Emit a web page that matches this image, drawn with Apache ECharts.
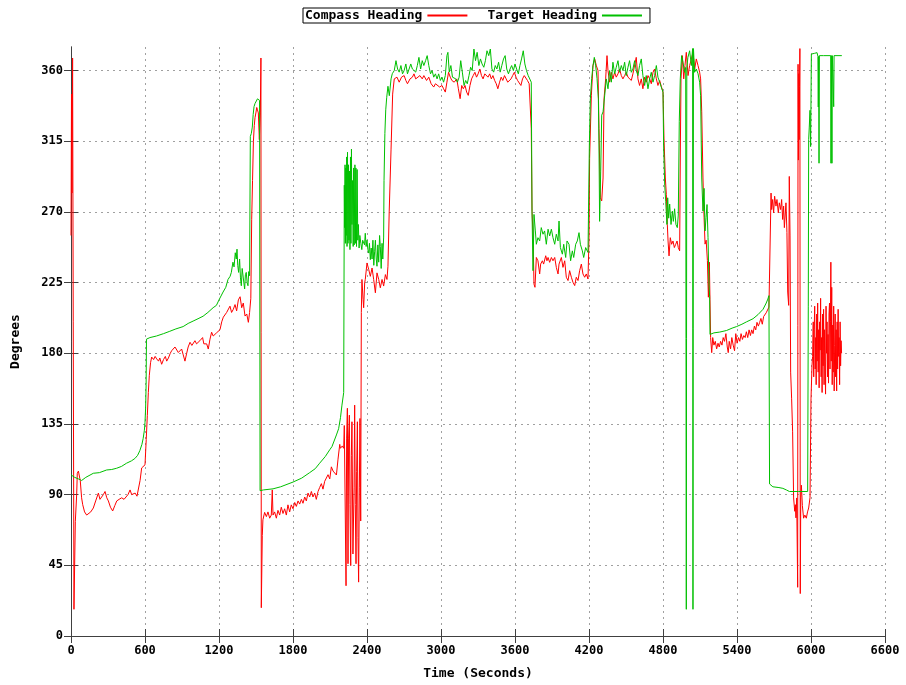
<!DOCTYPE html>
<html>
<head>
<meta charset="utf-8">
<script src="https://cdn.jsdelivr.net/npm/echarts@6/dist/echarts.min.js"></script>
<style>
  html, body { margin: 0; padding: 0; background: #fff; }
  #chart { width: 906px; height: 685px; }
</style>
</head>
<body>
<div id="chart"></div>
<script>
// time (s), heading (deg)
const compassHeading = [
  [0,255],[4,345],[8,282],[13,368],[18,200],[24,17],[35,73],[46,90],[51,103.6],[60,105],[67,104.7],[75,99],[86,88],[95,83.6],[110,79],[127,77],[141,76.5],[160,79],[181,81.5],[200,86],[222,91],[235,87],[249,88],[262,90],[276,92],[290,88],[303,86],[320,82],[338,79.6],[355,83],[371,86],[390,87],[411,88],[430,87],[446,88.5],[462,90],[479,93],[492,90],[506,90],[520,91],[535,89],[547,90],[560,99],[573,107],[585,108],[600,109],[610,125],[619,140.5],[627,155],[635,166],[645,174],[654,177.6],[670,176],[682,178],[695,176.4],[710,175],[720,177],[735,173],[750,176],[765,178],[776,175],[790,177],[805,180],[816,181.6],[830,182],[843,184],[856,183],[870,180.5],[884,181],[897,182.7],[910,179],[924,175],[938,180],[950,184],[965,187],[980,185],[992,186],[1005,188],[1018,186],[1032,185],[1045,188],[1058,189],[1067,190],[1077,186],[1086,187],[1100,186],[1113,182.7],[1127,189],[1140,193.4],[1153,191],[1167,190],[1180,193],[1195,194],[1208,195],[1222,200],[1235,203],[1248,204],[1262,206],[1276,207],[1289,210],[1302,206],[1316,208],[1330,211],[1343,207],[1357,214],[1371,216],[1384,209],[1397,212],[1411,203.7],[1425,205],[1438,199.7],[1448,206],[1458,215],[1465,265],[1472,290],[1479,315],[1486,325],[1492,330],[1499,333],[1506,336.5],[1512,335],[1519,333],[1527,316],[1535,333],[1540,368],[1543,18],[1551,64],[1556,74],
  [1570,78.7],[1584,76],[1597,79],[1611,75],[1624,77],[1632,93],[1638,77],[1651,79],[1665,75],[1678,80],[1692,77],[1705,82],[1719,78],[1732,81],[1746,77],[1759,83.5],[1773,79],[1786,83.5],[1800,81],[1814,85],[1827,82.5],[1841,86],[1854,84],[1868,87],[1881,84.5],[1895,88.5],[1908,86],[1922,91],[1935,88.5],[1949,92],[1962,88.5],[1976,91],[1989,87],[2003,92],[2016,94.5],[2030,97],[2043,93.5],[2057,98.5],[2071,99],[2084,102.7],[2098,100],[2111,107.7],[2125,105],[2138,106],[2152,102.5],[2165,112.6],[2179,122],[2184,119.5],[2200,121],[2211,119.5],[2216,134],
  [2224,134],[2230,32],[2235,126],[2241,145],[2246,46],[2251,126],[2257,140.6],[2262,83.7],[2268,44.8],[2273,115],[2278,136.4],[2286,52.2],[2295,94.3],[2300,147],[2305,83.7],[2311,46],[2316,104.8],[2322,136.4],[2327,62.7],[2332,34.3],[2338,94.3],[2343,138.5],[2349,73.2],[2354,206],[2359,227],[2368,214.3],[2373,209],[2381,224.8],[2386,227],[2400,237.5],[2414,233.3],[2427,229],[2441,234.3],[2454,227],[2468,218.5],[2481,231.2],[2495,227],[2508,221.7],[2522,227],[2535,222.8],[2549,230.1],[2562,227],[2570,235.4],[2580,270],[2595,310],[2608,345],
  [2621,354.7],[2643,355.8],[2661,352.6],[2680,355.8],[2701,356.8],[2715,353.7],[2728,351.6],[2749,354.7],[2768,355.8],[2781,357.9],[2795,354.7],[2808,353.7],[2829,356.8],[2848,354.7],[2861,356.8],[2883,353.7],[2901,355.8],[2920,351.6],[2941,349.5],[2955,351.6],[2968,352.6],[2989,349.5],[3008,350.5],[3021,348.4],[3035,346.3],[3048,352.6],[3061,358.9],[3075,355.8],[3088,353.7],[3107,352.6],[3128,354.7],[3141,348.4],[3155,342.1],[3168,350.5],[3181,348.4],[3195,350.5],[3208,346.3],[3221,344.2],[3235,350.5],[3248,354.7],[3261,356.8],[3275,358.9],[3288,355.8],[3301,357.9],[3315,361],[3328,356.8],[3341,354.7],[3355,357.9],[3368,358.9],[3381,355.8],[3395,357.9],[3408,354.7],[3421,356.8],[3435,353.7],[3448,351.6],[3461,348.4],[3475,352.6],[3488,355.8],[3501,353.7],[3515,356.8],[3528,354.7],[3541,352.6],[3555,351.6],[3568,354.7],[3581,356.8],[3595,358.9],[3608,355.8],[3621,353.7],[3635,352.6],[3648,350.5],[3661,354.7],[3675,356.8],[3688,355.8],[3701,353.7],[3715,351.6],[3725,352],[3732,323],[3738,270.5],[3746,256],[3750,240],[3754,224],[3762,222],
  [3773,241],[3786,238.9],[3800,230.5],[3808,236.8],[3822,238.9],[3832,236.8],[3849,242.1],[3859,238.9],[3868,241],[3881,237.9],[3895,241],[3908,238.9],[3922,241],[3935,234.7],[3949,230.5],[3957,236.8],[3976,241],[3989,234.7],[4003,238.9],[4016,228.4],[4030,226.3],[4043,232.6],[4057,228.4],[4070,225.2],[4084,223.1],[4097,228.4],[4111,226.3],[4124,232.6],[4138,236.8],[4151,230.5],[4165,228.4],[4178,230.5],[4192,227.3],
  [4200,253.6],[4205,304],[4219,344],[4232,363],[4246,367.4],[4260,363],[4273,360],[4281,323],[4292,279],[4303,277],[4314,291.6],[4322,342],[4335,354.7],[4346,369.5],[4354,360],[4367,352.6],[4381,358.9],[4394,354.7],[4408,358.9],[4421,355.8],[4435,357.9],[4448,361],[4462,356.8],[4475,354.7],[4489,356.8],[4502,358.9],[4516,355.8],[4529,356.8],[4543,353.7],[4556,357.9],[4570,356.8],[4583,368.4],[4597,354.7],[4610,350.5],[4624,354.7],[4637,348.4],[4651,355.8],[4664,352.6],[4678,356.8],[4692,354.7],[4705,351.6],[4719,358.9],[4732,361],[4746,354.7],[4759,350.5],[4773,353.7],[4786,350],[4800,346.3],[4808,317],[4819,291.6],[4827,281],[4835,262],[4841,251.5],[4849,242],[4859,253.6],[4870,249.4],[4881,251.5],[4892,247.3],[4903,249.4],[4914,251.5],[4924,247.3],[4935,245.2],[4941,312.6],[4946,354.7],[4957,369.5],[4968,354.7],[4978,363.2],[4989,371.6],[5003,356.8],[5016,363.2],[5030,367.4],[5043,371.6],[5057,361],[5070,367.4],[5084,363.2],[5097,359],[5105,354.7],[5114,333.7],[5124,291.6],[5133,266.3],[5141,249.5],[5150,252],[5160,239],[5168,215.7],[5176,238],[5181,214],[5186,190],[5195,180.4],[5203,190],
  [5213,185.2],[5224,187.6],[5235,182.8],[5246,186.4],[5256,184],[5267,187.6],[5278,185.2],[5288,190],[5299,187.6],[5310,192.5],[5321,184],[5329,180.4],[5337,187.6],[5348,182.8],[5358,190],[5369,185.2],[5380,181.6],[5390,192.5],[5401,186.4],[5412,190],[5423,187.6],[5433,192.5],[5444,188.8],[5455,191.3],[5466,190],[5476,193.7],[5487,190],[5498,194.9],[5509,191.3],[5519,194.9],[5530,192.5],[5541,197.3],[5552,194.9],[5562,199.7],[5573,197.3],[5584,199.7],[5594,202.2],[5605,198.5],[5616,203.4],[5627,202.2],[5637,205.8],[5651,207],[5659,209.4],
  [5676,282],[5681,271.5],[5689,277.9],[5697,269.4],[5705,280],[5716,273.7],[5724,277.9],[5735,269.4],[5743,275.8],[5754,271.5],[5762,277.9],[5770,265.2],[5778,273.7],[5784,260],[5792,269.4],[5797,275.8],[5805,256.8],[5811,219],[5819,210.5],[5824,292.6],[5830,254.7],[5835,168],[5843,151],[5851,130],[5859,87.9],[5868,79.4],[5873,83.6],[5878,75.2],[5884,87.9],[5892,31],[5895,364],[5898,303],[5901,358],[5904,316],[5907,350],[5910,374],[5913,27],[5917,88],[5922,96],[5926,96],[5930,83],[5940,75],[5950,77],[5962,75],[5972,79],[5981,81.5],[5992,88],[6000,151],
  [6008,172],[6013,178],[6018,200],[6022,165],[6026,195],[6030,210],[6034,170],[6038,190],[6042,160],[6046,205],[6050,175],[6054,212],[6058,168],[6062,195],[6066,158],[6070,200],[6074,182],[6078,215],[6082,165],[6086,190],[6090,155],[6094,205],[6098,172],[6102,208],[6106,160],[6110,195],[6114,175],[6118,154],[6122,210],[6126,180],[6130,200],[6134,165],[6138,192],[6142,161],[6146,205],[6150,212],[6154,170],[6158,200],[6161,238],[6164,175],[6168,222],[6172,160],[6176,198],[6180,168],[6184,210],[6188,156],[6192,185],[6196,205],[6200,165],[6204,195],[6208,156],[6212,200],[6216,170],[6220,208],[6224,178],[6228,190],[6232,160],[6236,200],[6240,172],[6244,188],[6248,180]
];

const targetHeading = [
  [0,102.6],[30,101],[60,100],[86,99],[120,101],[181,103.6],[230,104],[289,105.7],[330,106],[370,106.8],[410,108],[450,110],[490,111.5],[518,113],[540,115],[558,118],[575,122],[585,125.7],[595,131],[600,136],[605,145],[609,160],[612,189],[640,190],[693,191],[750,192.5],[801,194],[850,195.5],[909,197],[950,199],[990,200.5],[1030,202],[1071,203.6],[1110,206],[1152,209],[1179,210.5],[1200,214],[1233,219],[1255,222],[1273,227],[1290,229],[1300,231.5],[1313,238],[1322,235],[1332,244],[1340,240],[1346,246.3],[1352,236],[1359,231.5],[1367,240],[1374,228],[1381,223],[1388,234],[1394,233.6],[1400,226],[1408,221],[1414,230],[1421,231.5],[1428,225],[1435,223],[1441,232],[1448,229.4],[1454,318],[1462,320],[1470,324],[1477,332],[1484,337],[1492,339],[1502,340],[1512,342],[1524,342],[1529,341],[1533,92.5],[1560,93],[1638,93.7],[1700,95],[1800,98],[1870,100.5],[1935,104],[1980,106.5],[2016,110],[2062,114.3],[2098,118.6],[2116,120.6],[2152,128],[2170,132],[2185,139],[2197,147],[2211,155],
  [2216,287],[2219,260],[2222,300],[2225,250],[2228,298],[2231,255],[2235,305],[2238,248],[2242,308],[2246,250],[2250,300],[2254,252],[2258,296],[2262,246],[2266,305],[2270,250],[2274,310],[2278,262],[2283,290],[2288,248],[2292,298],[2296,249],[2302,300],[2306,250],[2310,298],[2315,248],[2320,297],[2325,252],[2330,262],[2336,247],[2342,255],[2350,250],[2358,246],[2365,252],[2373,252],[2380,249],[2386,256.4],[2393,248],[2400,252],[2407,246],[2414,243.8],[2420,250],[2427,239.6],[2434,247],[2441,240],[2448,252],[2455,236],[2462,245],[2468,252],[2475,240],[2481,235.4],[2488,249],[2495,238],[2502,255],[2508,248],[2515,234],[2522,250],[2528,240],[2535,254],[2538,290],[2545,320],[2552,335],[2560,343],[2570,350],[2581,344],[2595,354.7],[2605,358],
  [2621,360],[2635,366.3],[2648,361],[2661,359],[2675,363.2],[2688,357.9],[2701,360],[2715,364.2],[2728,357.9],[2741,359],[2755,364.2],[2768,361],[2781,362.1],[2795,359],[2808,363.2],[2821,368.4],[2835,361],[2848,366.3],[2861,363.2],[2875,366.3],[2888,369.5],[2901,363.2],[2915,357.9],[2928,360],[2941,355.8],[2955,357.9],[2968,354.7],[2981,357.9],[2995,353.7],[3008,355.8],[3021,352.6],[3035,356.8],[3048,369.5],[3056,371.6],[3067,359],[3080,363.2],[3093,355.8],[3107,356.8],[3120,354.7],[3133,352.6],[3147,355.8],[3160,366.3],[3173,359],[3187,350.5],[3200,353.7],[3213,351.6],[3227,356.8],[3240,362.1],[3253,360],[3267,373.7],[3280,366.3],[3293,371.6],[3307,363.2],[3320,367.4],[3333,364.2],[3347,362.1],[3360,366.3],[3373,372.6],[3387,369.5],[3400,373.7],[3413,361],[3427,359],[3440,363.2],[3453,361],[3467,365.3],[3480,359],[3493,363.2],[3507,367.4],[3520,369.5],[3533,361],[3547,357.9],[3560,361],[3573,363.2],[3587,360],[3600,364.2],[3613,361],[3627,357.9],[3640,363.2],[3653,367.4],[3667,372.6],[3680,364.2],[3693,360],[3707,356.8],[3720,355.8],[3732,352.6],[3738,270],
  [3746,232.6],[3754,268.4],[3765,257.9],[3773,249.4],[3786,253.6],[3800,251.5],[3813,260],[3827,255.8],[3840,257.9],[3854,249.4],[3868,259],[3881,254.7],[3895,259],[3908,253.6],[3922,249.4],[3935,255.8],[3949,251.5],[3957,264.2],[3968,247.3],[3984,243.1],[3995,249.4],[4011,241],[4022,251.5],[4038,249.4],[4051,238.9],[4065,245.2],[4076,241],[4092,249.4],[4105,251.5],[4119,256.8],[4130,249.4],[4146,245.2],[4157,241],[4173,247.3],[4192,244.2],
  [4203,312.6],[4211,342],[4222,355],[4232,363],[4243,368.4],[4254,363],[4265,355],[4276,342],[4281,312.6],[4286,264],[4295,296],[4303,331.6],[4314,333.7],[4327,344],[4340,354.7],[4354,348.4],[4367,360],[4381,352.6],[4394,365.3],[4408,357.9],[4421,362.1],[4435,366.3],[4448,358.9],[4462,363.2],[4475,360],[4489,365.3],[4502,356.8],[4516,362.1],[4529,366.3],[4543,358.9],[4556,361],[4570,366.3],[4583,360],[4597,356.8],[4610,363.2],[4624,367.4],[4637,356.8],[4651,350.5],[4664,356.8],[4678,348.4],[4692,354.7],[4705,358.9],[4719,352.6],[4732,356.8],[4746,363.2],[4759,355.8],[4773,352.6],[4786,349.5],[4800,346.3],[4805,312.6],[4814,287],[4822,276.8],[4832,262],[4838,279],[4846,266],[4854,275],[4865,262],[4876,270.5],[4884,264],[4894,272],[4905,262],[4916,260],[4924,268],[4932,327.4],[4940,354.7],[4951,369.5],[4962,365.3],[4975,358.9],[4984,362],[4989,17],[4993,362],[5002,368.4],[5016,372.6],[5030,363.2],[5040,374],[5043,17],[5047,374],[5056,358.9],[5070,361],[5084,358],[5097,352.6],[5105,344],[5114,291.6],[5124,270.5],[5133,285],[5141,257.9],[5149,266.3],[5157,274.7],[5165,253.6],[5173,224],[5178,216],[5181,192],
  [5213,193],[5260,193.5],[5315,194.5],[5360,196],[5396,197],[5440,198.5],[5477,200],[5530,202],[5570,204.6],[5611,208],[5637,212],[5650,214.5],[5659,216.7],[5664,96.8],[5691,95],[5740,94.5],[5772,94],[5800,93],[5825,92],[5900,92],[5973,92],[5978,210],[5981,316],[5986,324],[5992,334.7],[5997,311.6],[6003,370.5],[6030,371],[6049,371.4],[6056,369],[6059,336.8],[6062,369],[6065,301],[6068,369.5],[6100,369.5],[6160,369.5],[6162,301],[6165,369.5],[6170,301],[6173,369.5],[6180,369.5],[6184,337],[6187,369.5],[6250,369.5]
];

const xTickValues = [0, 600, 1200, 1800, 2400, 3000, 3600, 4200, 4800, 5400, 6000, 6600];
const yTickValues = [0, 45, 90, 135, 180, 225, 270, 315, 360];
const yMax = 375;

const chart = echarts.init(document.getElementById('chart'), null, { renderer: 'canvas' });

const monoFont = "'DejaVu Sans Mono', 'Liberation Mono', monospace";
const gridLine = { show: true, lineStyle: { color: '#a0a0a0', type: [2, 4], width: 1 } };
const borderLine = { show: true, lineStyle: { color: '#404040', width: 1 } };
const labelFont = { fontFamily: monoFont, fontWeight: 'bold', fontSize: 12, color: '#000' };
const nameFont = { fontFamily: monoFont, fontWeight: 'bold', fontSize: 13, color: '#000' };

function ticks(values) {
  return { show: true, inside: true, length: 7, customValues: values, lineStyle: { color: '#404040' } };
}

const option = {
  animation: false,
  backgroundColor: '#ffffff',
  textStyle: { fontFamily: monoFont },
  legend: {
    top: 8,
    left: 303,
    align: 'right',
    icon: 'rect',
    itemWidth: 40,
    itemHeight: 2,
    itemGap: 20,
    padding: [1, 8, 1, 2],
    borderColor: '#000',
    borderWidth: 1,
    textStyle: nameFont,
    data: ['Compass Heading', 'Target Heading']
  },
  grid: { left: 71, right: 21, top: 47, bottom: 46 },
  xAxis: [
    {
      type: 'value',
      min: 0, max: 6600, interval: 600,
      name: 'Time (Seconds)',
      nameLocation: 'middle',
      nameGap: 31,
      nameTextStyle: nameFont,
      axisLine: borderLine,
      axisTick: ticks(xTickValues),
      axisLabel: Object.assign({ margin: 9, customValues: xTickValues, formatter: v => String(v) }, labelFont),
      splitLine: gridLine
    },
    {
      type: 'value', position: 'top',
      min: 0, max: 6600, interval: 600,
      axisLine: borderLine, axisTick: ticks(xTickValues), axisLabel: { show: false }, splitLine: { show: false }
    }
  ],
  yAxis: [
    {
      type: 'value',
      min: 0, max: yMax, interval: 45,
      name: 'Degrees',
      nameLocation: 'middle',
      nameGap: 49,
      nameTextStyle: nameFont,
      axisLine: borderLine,
      axisTick: ticks(yTickValues),
      axisLabel: Object.assign({ margin: 8, customValues: yTickValues, formatter: v => String(v) }, labelFont),
      splitLine: gridLine
    },
    {
      type: 'value', position: 'right',
      min: 0, max: yMax, interval: 45,
      axisLine: borderLine, axisTick: ticks(yTickValues), axisLabel: { show: false }, splitLine: { show: false }
    }
  ],
  series: [
    {
      name: 'Compass Heading',
      type: 'line',
      data: compassHeading,
      showSymbol: false,
      symbol: 'none',
      color: '#ff0000',
      lineStyle: { width: 1, color: '#ff0000' },
      z: 2
    },
    {
      name: 'Target Heading',
      type: 'line',
      data: targetHeading,
      showSymbol: false,
      symbol: 'none',
      color: '#00c000',
      lineStyle: { width: 1, color: '#00c000' },
      z: 3
    }
  ]
};

chart.setOption(option);
</script>
</body>
</html>
